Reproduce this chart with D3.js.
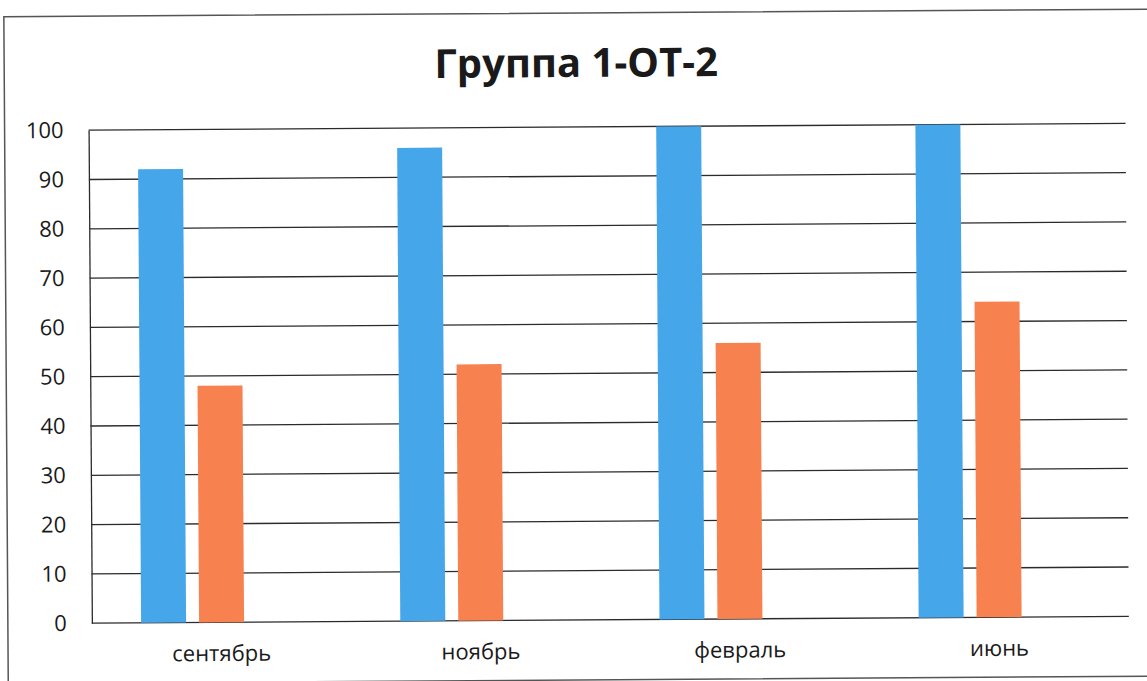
<!DOCTYPE html>
<meta charset="utf-8">
<head>
  <script src="https://d3js.org/d3.v7.min.js"></script>
  <style>
    body { margin: 0; background: #fff; }
    text { font-family: "Open Sans", sans-serif; fill: #1a1a1a; }
  </style>
</head>
<body>
  <div id="my_dataviz"></div>
</body>
<script>
  // chart data
  var title = "Группа 1-ОТ-2";
  var months = ["сентябрь", "ноябрь", "февраль", "июнь"];
  var series1 = [92, 96, 100, 100];
  var series2 = [48, 52, 56, 64];
  var series3 = [0, 0, 0, 0];   // empty third series, keeps its slot in each group
  var yTicks = [0, 10, 20, 30, 40, 50, 60, 70, 80, 90, 100];
  var colors = ["#46a6ea", "#f7814f", "#a5a5a5"];

  var W = 1147, H = 681;
  var margin = { top: 127, right: 20, bottom: 61, left: 90 },
    width = 1127 - margin.left,
    height = H - margin.top - margin.bottom;

  var svg = d3.select("#my_dataviz")
    .append("svg")
    .attr("width", W)
    .attr("height", H);

  // the scan is tilted a little
  var page = svg.append("g")
    .attr("transform", "rotate(-0.38," + W / 2 + "," + H / 2 + ")");

  // outer chart border
  page.append("rect")
    .attr("x", 6).attr("y", 13)
    .attr("width", 1170).attr("height", 667)
    .attr("fill", "none")
    .attr("stroke", "#555")
    .attr("stroke-width", 1.5);

  page.append("text")
    .attr("x", 578).attr("y", 77)
    .attr("text-anchor", "middle")
    .style("font-size", "40px")
    .style("font-weight", "bold")
    .text(title);

  var g = page.append("g")
    .attr("transform", "translate(" + margin.left + "," + margin.top + ")");

  var x0 = d3.scaleBand()
    .domain(months)
    .range([0, width])
    .paddingInner(0.379)
    .paddingOuter(0.19);

  var x1 = d3.scaleBand()
    .domain([0, 1, 2])
    .range([0, x0.bandwidth()])
    .paddingInner(0.224);

  var y = d3.scaleLinear()
    .domain([0, 100])
    .range([height, 0]);

  // gridlines
  g.append("g")
    .selectAll("line")
    .data(yTicks)
    .enter()
    .append("line")
    .attr("x1", 0).attr("x2", width)
    .attr("y1", function (d) { return y(d); })
    .attr("y2", function (d) { return y(d); })
    .attr("stroke", "#2b2b2b")
    .attr("stroke-width", 1.3);

  // y axis
  var yAxis = g.append("g")
    .call(d3.axisLeft(y).tickValues(yTicks).tickSize(0).tickPadding(25));
  yAxis.select(".domain").attr("stroke", "#2b2b2b").attr("stroke-width", 1.3);
  yAxis.selectAll("text").style("font-size", "22px").attr("fill", "#1a1a1a");

  // bars
  var data = months.map(function (m, i) {
    return { month: m, values: [series1[i], series2[i], series3[i]] };
  });

  g.selectAll(".grp")
    .data(data)
    .enter()
    .append("g")
    .attr("transform", function (d) { return "translate(" + x0(d.month) + ",0)"; })
    .selectAll("rect")
    .data(function (d) { return d.values; })
    .enter()
    .append("rect")
    .attr("x", function (d, i) { return x1(i); })
    .attr("y", function (d) { return y(d); })
    .attr("width", x1.bandwidth())
    .attr("height", function (d) { return height - y(d); })
    .attr("fill", function (d, i) { return colors[i]; });

  // x axis
  var xAxis = g.append("g")
    .attr("transform", "translate(0," + height + ")")
    .call(d3.axisBottom(x0.copy().paddingInner(0).paddingOuter(0)).tickSize(0).tickPadding(23));
  xAxis.select(".domain").remove();
  xAxis.selectAll("text").style("font-size", "22px").attr("fill", "#1a1a1a");
</script>
